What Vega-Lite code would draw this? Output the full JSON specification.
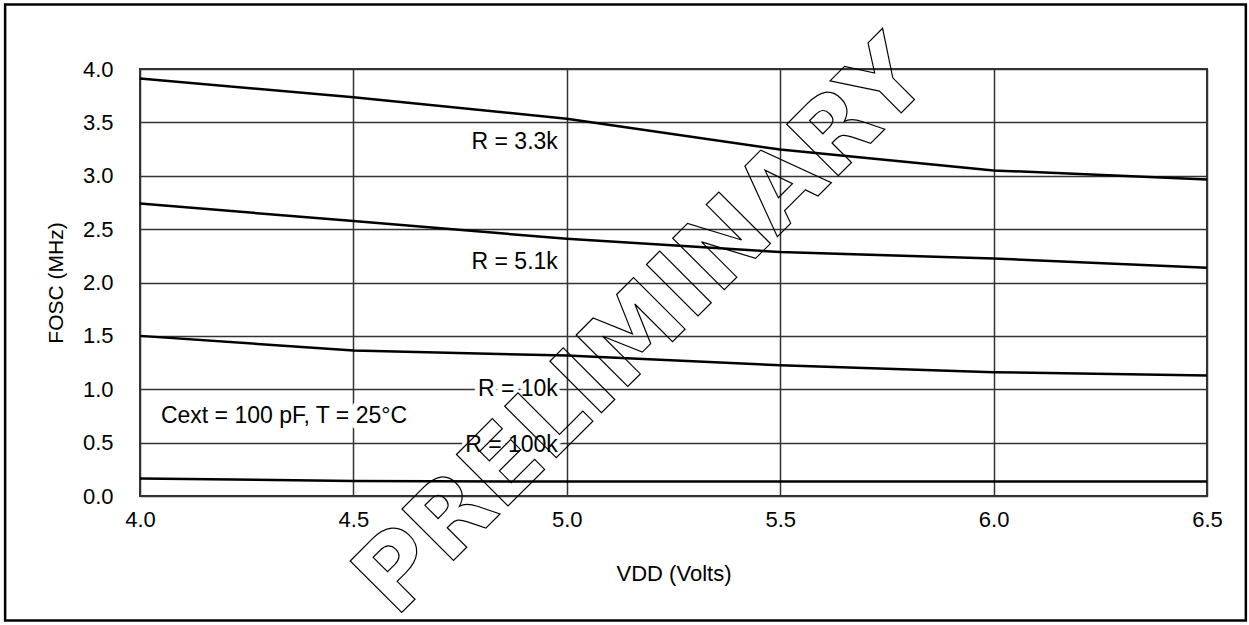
{
  "$schema": "https://vega.github.io/schema/vega-lite/v6.json",
  "width": 1067,
  "height": 427,
  "autosize": {"type": "none"},
  "padding": {"left": 140, "top": 69, "right": 42, "bottom": 129},
  "background": "white",
  "config": {
    "view": {"stroke": "#333", "strokeWidth": 2},
    "font": "Liberation Sans"
  },
  "datasets": {
    "curves": [
      {"r": "3.3k", "vdd": 4.0, "fosc": 3.91},
      {"r": "3.3k", "vdd": 4.5, "fosc": 3.735},
      {"r": "3.3k", "vdd": 5.0, "fosc": 3.535},
      {"r": "3.3k", "vdd": 5.5, "fosc": 3.245},
      {"r": "3.3k", "vdd": 6.0, "fosc": 3.05},
      {"r": "3.3k", "vdd": 6.5, "fosc": 2.965},
      {"r": "5.1k", "vdd": 4.0, "fosc": 2.74},
      {"r": "5.1k", "vdd": 4.5, "fosc": 2.575},
      {"r": "5.1k", "vdd": 5.0, "fosc": 2.41},
      {"r": "5.1k", "vdd": 5.5, "fosc": 2.285},
      {"r": "5.1k", "vdd": 6.0, "fosc": 2.225},
      {"r": "5.1k", "vdd": 6.5, "fosc": 2.138},
      {"r": "10k", "vdd": 4.0, "fosc": 1.5},
      {"r": "10k", "vdd": 4.5, "fosc": 1.363},
      {"r": "10k", "vdd": 5.0, "fosc": 1.316},
      {"r": "10k", "vdd": 5.5, "fosc": 1.225},
      {"r": "10k", "vdd": 6.0, "fosc": 1.16},
      {"r": "10k", "vdd": 6.5, "fosc": 1.128},
      {"r": "100k", "vdd": 4.0, "fosc": 0.165},
      {"r": "100k", "vdd": 4.5, "fosc": 0.14},
      {"r": "100k", "vdd": 5.0, "fosc": 0.135},
      {"r": "100k", "vdd": 5.5, "fosc": 0.135},
      {"r": "100k", "vdd": 6.0, "fosc": 0.137},
      {"r": "100k", "vdd": 6.5, "fosc": 0.137}
    ],
    "rlabels": [
      {"label": "R = 3.3k", "vdd": 4.979, "fosc": 3.316},
      {"label": "R = 5.1k", "vdd": 4.979, "fosc": 2.19},
      {"label": "R = 10k", "vdd": 4.979, "fosc": 1.0},
      {"label": "R = 100k", "vdd": 4.979, "fosc": 0.48}
    ],
    "note": [
      {"label": "Cext = 100 pF, T = 25°C", "vdd": 4.049, "fosc": 0.748}
    ],
    "watermark": [
      {"label": "PRELIMINARY", "vdd": 5.179, "fosc": 1.569}
    ]
  },
  "layer": [
    {
      "data": {"name": "curves"},
      "mark": {"type": "line", "color": "black", "strokeWidth": 2.5},
      "encoding": {
        "x": {
          "field": "vdd", "type": "quantitative",
          "scale": {"domain": [4, 6.5], "nice": false, "zero": false},
          "axis": {
            "title": "VDD (Volts)",
            "values": [4, 4.5, 5, 5.5, 6, 6.5],
            "format": ".1f",
            "ticks": false, "domain": false,
            "grid": true, "gridColor": "#333", "gridWidth": 1.5,
            "labelFont": "Liberation Sans", "labelFontSize": 22, "labelColor": "black",
            "labelPadding": 13, "labelFlush": false,
            "titleFont": "Liberation Sans", "titleFontSize": 22, "titleFontWeight": "normal",
            "titleColor": "black", "titlePadding": 33
          }
        },
        "y": {
          "field": "fosc", "type": "quantitative",
          "scale": {"domain": [0, 4], "nice": false, "zero": false},
          "axis": {
            "title": "FOSC (MHz)",
            "values": [0, 0.5, 1, 1.5, 2, 2.5, 3, 3.5, 4],
            "format": ".1f",
            "ticks": false, "domain": false,
            "grid": true, "gridColor": "#333", "gridWidth": 1.3,
            "labelFont": "Liberation Sans", "labelFontSize": 22, "labelColor": "black",
            "labelPadding": 27, "labelFlush": false,
            "titleFont": "Liberation Sans", "titleFontSize": 21, "titleFontWeight": "normal",
            "titleColor": "black", "titlePadding": 16
          }
        },
        "detail": {"field": "r", "type": "nominal"}
      }
    },
    {
      "data": {"name": "rlabels"},
      "mark": {"type": "text", "align": "right", "baseline": "middle", "fontSize": 23, "font": "Liberation Sans", "fill": "white", "stroke": "white", "strokeWidth": 10, "strokeJoin": "round"},
      "encoding": {
        "x": {"field": "vdd", "type": "quantitative"},
        "y": {"field": "fosc", "type": "quantitative"},
        "text": {"field": "label", "type": "nominal"}
      }
    },
    {
      "data": {"name": "rlabels"},
      "mark": {"type": "text", "align": "right", "baseline": "middle", "fontSize": 23, "font": "Liberation Sans", "fill": "black"},
      "encoding": {
        "x": {"field": "vdd", "type": "quantitative"},
        "y": {"field": "fosc", "type": "quantitative"},
        "text": {"field": "label", "type": "nominal"}
      }
    },
    {
      "data": {"name": "note"},
      "mark": {"type": "text", "align": "left", "baseline": "middle", "fontSize": 23, "font": "Liberation Sans", "fill": "white", "stroke": "white", "strokeWidth": 12, "strokeJoin": "round"},
      "encoding": {
        "x": {"field": "vdd", "type": "quantitative"},
        "y": {"field": "fosc", "type": "quantitative"},
        "text": {"field": "label", "type": "nominal"}
      }
    },
    {
      "data": {"name": "note"},
      "mark": {"type": "text", "align": "left", "baseline": "middle", "fontSize": 23, "font": "Liberation Sans", "fill": "black"},
      "encoding": {
        "x": {"field": "vdd", "type": "quantitative"},
        "y": {"field": "fosc", "type": "quantitative"},
        "text": {"field": "label", "type": "nominal"}
      }
    },
    {
      "data": {"name": "watermark"},
      "mark": {"type": "text", "align": "center", "baseline": "middle", "angle": -45, "fontSize": 100, "font": "DejaVu Sans", "fontWeight": "bold", "fill": "transparent", "stroke": "black", "strokeWidth": 1.2},
      "encoding": {
        "x": {"field": "vdd", "type": "quantitative"},
        "y": {"field": "fosc", "type": "quantitative"},
        "text": {"field": "label", "type": "nominal"}
      }
    },
    {
      "data": {"values": [{}]},
      "mark": {"type": "rect", "fill": "transparent", "stroke": "black", "strokeWidth": 2.5},
      "encoding": {
        "x": {"datum": 3.684, "type": "quantitative"},
        "x2": {"datum": 6.591},
        "y": {"datum": 4.604, "type": "quantitative"},
        "y2": {"datum": -1.166}
      }
    }
  ]
}
